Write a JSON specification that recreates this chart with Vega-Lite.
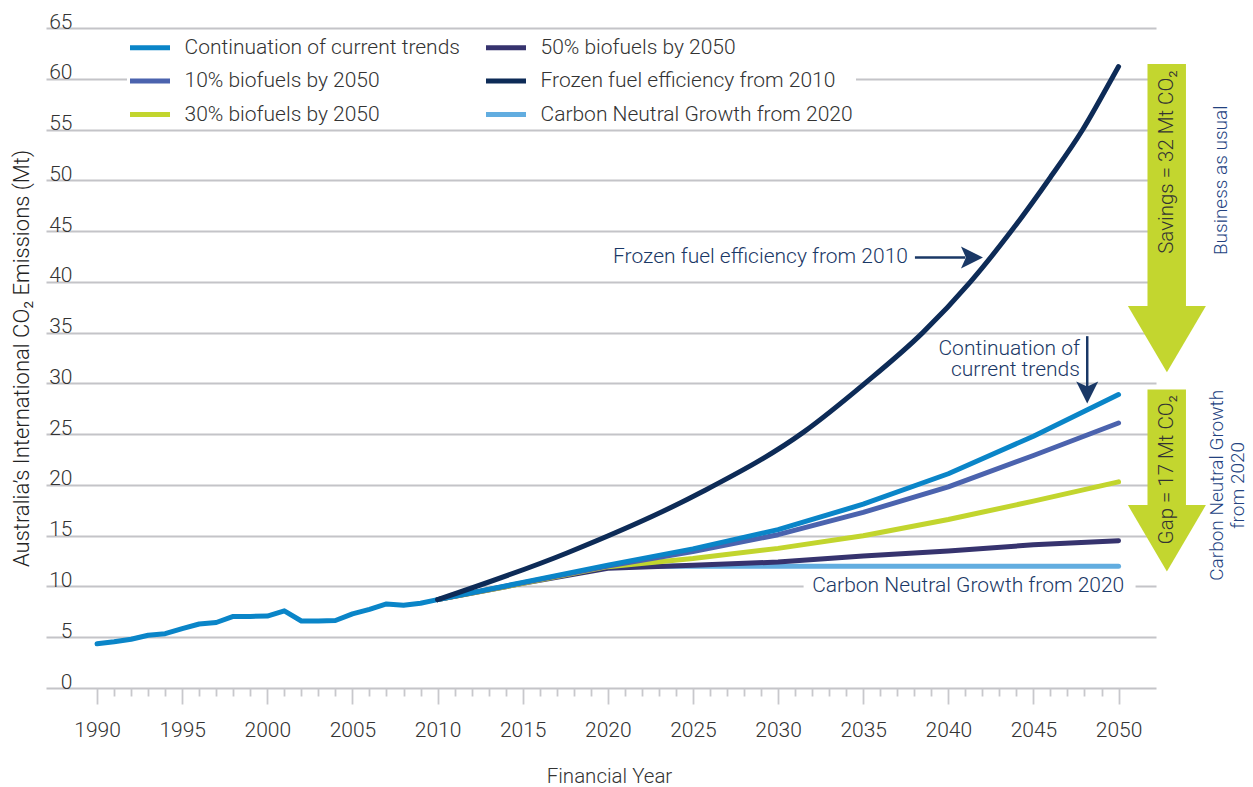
{
  "$schema": "https://vega.github.io/schema/vega-lite/v6.json",
  "width": 1110,
  "height": 660,
  "autosize": {"type": "none"},
  "padding": {"left": 46, "top": 28, "right": 97, "bottom": 99},
  "background": "white",
  "config": {"view": {"stroke": null}, "font": "Roboto", "text": {"font": "Roboto", "fontWeight": 300}},
  "encoding": {
    "x": {
      "field": "year", "type": "quantitative",
      "scale": {"domain": [1987, 2052.2], "nice": false, "zero": false},
      "axis": {
        "values": [1990,1991,1992,1993,1994,1995,1996,1997,1998,1999,2000,2001,2002,2003,2004,2005,2006,2007,2008,2009,2010,2011,2012,2013,2014,2015,2016,2017,2018,2019,2020,2021,2022,2023,2024,2025,2026,2027,2028,2029,2030,2031,2032,2033,2034,2035,2036,2037,2038,2039,2040,2041,2042,2043,2044,2045,2046,2047,2048,2049,2050],
        "format": "d",
        "labelExpr": "datum.value % 5 === 0 ? datum.label : ''",
        "labelFontSize": 21, "labelColor": "#333333", "labelFont": "Roboto", "labelFontWeight": 300,
        "labelBaseline": "alphabetic", "labelPadding": 32,
        "labelFlush": false, "labelOverlap": false,
        "domain": false, "grid": false,
        "tickColor": "#c8c8cc", "tickWidth": 1.8,
        "tickSize": {"condition": {"test": "datum.value % 5 === 0", "value": 16}, "value": 8},
        "title": "Financial Year", "titleFontSize": 20.5, "titleFontWeight": 300, "titleColor": "#333333",
        "titleFont": "Roboto",
        "titleX": 563, "titleY": 94, "titleBaseline": "alphabetic", "titleAlign": "center"
      }
    },
    "y": {
      "field": "value", "type": "quantitative",
      "scale": {"domain": [0, 65], "nice": false},
      "axis": {
        "values": [0,5,10,15,20,25,30,35,40,45,50,55,60,65],
        "grid": true, "gridColor": "#c4c4c8", "gridWidth": 2.2,
        "domain": false, "ticks": false, "tickSize": 0,
        "labelAlign": "right", "labelBaseline": "alphabetic", "labelPadding": -26,
        "labelDy": -4,
        "labelFontSize": 21, "labelColor": "#333333", "labelFont": "Roboto", "labelFontWeight": 300,
        "labelFlush": false, "labelOverlap": false,
        "title": "Australia’s International CO₂ Emissions (Mt)",
        "titleFontSize": 22, "titleFontWeight": 300, "titleColor": "#222222", "titleFont": "Roboto",
        "titleAngle": 270, "titleX": -18, "titleY": 330, "titleAlign": "center", "titleBaseline": "alphabetic"
      }
    }
  },
  "layer": [
    {
      "data": {"values": [{"year": 2031.5, "year2": 2051.0, "value": 9.4, "value2": 10.6}]},
      "mark": {"type": "rect", "fill": "white"},
      "encoding": {"x2": {"field": "year2"}, "y2": {"field": "value2"}}
    },
    {
      "data": {"values": [
        {"series": "Carbon Neutral Growth from 2020", "year": 2020, "value": 12.0},
        {"series": "Carbon Neutral Growth from 2020", "year": 2050, "value": 12.0},
        {"series": "50% biofuels by 2050", "year": 2010, "value": 8.7},
        {"series": "50% biofuels by 2050", "year": 2015, "value": 10.3},
        {"series": "50% biofuels by 2050", "year": 2020, "value": 11.8},
        {"series": "50% biofuels by 2050", "year": 2025, "value": 12.1},
        {"series": "50% biofuels by 2050", "year": 2030, "value": 12.4},
        {"series": "50% biofuels by 2050", "year": 2035, "value": 13.0},
        {"series": "50% biofuels by 2050", "year": 2040, "value": 13.5},
        {"series": "50% biofuels by 2050", "year": 2045, "value": 14.1},
        {"series": "50% biofuels by 2050", "year": 2050, "value": 14.5},
        {"series": "30% biofuels by 2050", "year": 2010, "value": 8.7},
        {"series": "30% biofuels by 2050", "year": 2015, "value": 10.3},
        {"series": "30% biofuels by 2050", "year": 2020, "value": 11.95},
        {"series": "30% biofuels by 2050", "year": 2025, "value": 12.75},
        {"series": "30% biofuels by 2050", "year": 2030, "value": 13.75},
        {"series": "30% biofuels by 2050", "year": 2035, "value": 15.0},
        {"series": "30% biofuels by 2050", "year": 2040, "value": 16.6},
        {"series": "30% biofuels by 2050", "year": 2045, "value": 18.4},
        {"series": "30% biofuels by 2050", "year": 2050, "value": 20.3},
        {"series": "10% biofuels by 2050", "year": 2010, "value": 8.7},
        {"series": "10% biofuels by 2050", "year": 2015, "value": 10.35},
        {"series": "10% biofuels by 2050", "year": 2020, "value": 12.0},
        {"series": "10% biofuels by 2050", "year": 2025, "value": 13.45},
        {"series": "10% biofuels by 2050", "year": 2030, "value": 15.1},
        {"series": "10% biofuels by 2050", "year": 2035, "value": 17.3},
        {"series": "10% biofuels by 2050", "year": 2040, "value": 19.8},
        {"series": "10% biofuels by 2050", "year": 2045, "value": 22.9},
        {"series": "10% biofuels by 2050", "year": 2050, "value": 26.1}
      ]},
      "mark": {"type": "line", "strokeWidth": 5, "strokeCap": "round", "strokeJoin": "round"},
      "encoding": {
        "color": {
          "field": "series", "type": "nominal",
          "scale": {
            "domain": ["Continuation of current trends", "10% biofuels by 2050", "30% biofuels by 2050", "50% biofuels by 2050", "Frozen fuel efficiency from 2010", "Carbon Neutral Growth from 2020"],
            "range": ["#0a85c8", "#4b63ae", "#c2d52e", "#36336e", "#0d2b57", "#62ade0"]
          },
          "legend": {
            "orient": "none", "legendX": 81, "legendY": 6, "columns": 2, "title": null,
            "symbolType": "M-4,0L4,0", "symbolSize": 100, "symbolStrokeWidth": 5,
            "symbolOffset": 9.5, "labelOffset": 24,
            "labelFontSize": 21, "labelFont": "Roboto", "labelFontWeight": 300, "labelColor": "#333333", "labelLimit": 500,
            "rowPadding": 11.5, "columnPadding": 16, "padding": 3, "fillColor": "white"
          }
        }
      }
    },
    {
      "data": {"values": [
        {"series": "Continuation of current trends", "year": 1990, "value": 4.35},
        {"series": "Continuation of current trends", "year": 1991, "value": 4.55},
        {"series": "Continuation of current trends", "year": 1992, "value": 4.8},
        {"series": "Continuation of current trends", "year": 1993, "value": 5.2},
        {"series": "Continuation of current trends", "year": 1994, "value": 5.35},
        {"series": "Continuation of current trends", "year": 1995, "value": 5.85},
        {"series": "Continuation of current trends", "year": 1996, "value": 6.3},
        {"series": "Continuation of current trends", "year": 1997, "value": 6.45},
        {"series": "Continuation of current trends", "year": 1998, "value": 7.05},
        {"series": "Continuation of current trends", "year": 1999, "value": 7.05},
        {"series": "Continuation of current trends", "year": 2000, "value": 7.08},
        {"series": "Continuation of current trends", "year": 2001, "value": 7.6},
        {"series": "Continuation of current trends", "year": 2002, "value": 6.6},
        {"series": "Continuation of current trends", "year": 2003, "value": 6.6},
        {"series": "Continuation of current trends", "year": 2004, "value": 6.65},
        {"series": "Continuation of current trends", "year": 2005, "value": 7.3},
        {"series": "Continuation of current trends", "year": 2006, "value": 7.75},
        {"series": "Continuation of current trends", "year": 2007, "value": 8.28},
        {"series": "Continuation of current trends", "year": 2008, "value": 8.15},
        {"series": "Continuation of current trends", "year": 2009, "value": 8.35},
        {"series": "Continuation of current trends", "year": 2010, "value": 8.7},
        {"series": "Continuation of current trends", "year": 2015, "value": 10.4},
        {"series": "Continuation of current trends", "year": 2020, "value": 12.1},
        {"series": "Continuation of current trends", "year": 2025, "value": 13.7},
        {"series": "Continuation of current trends", "year": 2030, "value": 15.6},
        {"series": "Continuation of current trends", "year": 2035, "value": 18.1},
        {"series": "Continuation of current trends", "year": 2040, "value": 21.1},
        {"series": "Continuation of current trends", "year": 2045, "value": 24.8},
        {"series": "Continuation of current trends", "year": 2050, "value": 28.9}
      ]},
      "mark": {"type": "line", "strokeWidth": 5, "strokeCap": "round", "strokeJoin": "round"},
      "encoding": {
        "color": {
          "field": "series", "type": "nominal",
          "scale": {
            "domain": ["Continuation of current trends", "10% biofuels by 2050", "30% biofuels by 2050", "50% biofuels by 2050", "Frozen fuel efficiency from 2010", "Carbon Neutral Growth from 2020"],
            "range": ["#0a85c8", "#4b63ae", "#c2d52e", "#36336e", "#0d2b57", "#62ade0"]
          }
        }
      }
    },
    {
      "data": {"values": [
        {"series": "Frozen fuel efficiency from 2010", "year": 2010, "value": 8.7},
        {"series": "Frozen fuel efficiency from 2010", "year": 2017.6, "value": 13.3},
        {"series": "Frozen fuel efficiency from 2010", "year": 2025.4, "value": 19.2},
        {"series": "Frozen fuel efficiency from 2010", "year": 2031.5, "value": 25.2},
        {"series": "Frozen fuel efficiency from 2010", "year": 2035.1, "value": 30.0},
        {"series": "Frozen fuel efficiency from 2010", "year": 2038.5, "value": 35.0},
        {"series": "Frozen fuel efficiency from 2010", "year": 2041.3, "value": 40.0},
        {"series": "Frozen fuel efficiency from 2010", "year": 2043.7, "value": 45.0},
        {"series": "Frozen fuel efficiency from 2010", "year": 2046.0, "value": 50.3},
        {"series": "Frozen fuel efficiency from 2010", "year": 2047.9, "value": 55.0},
        {"series": "Frozen fuel efficiency from 2010", "year": 2049.6, "value": 60.0},
        {"series": "Frozen fuel efficiency from 2010", "year": 2050, "value": 61.2}
      ]},
      "mark": {"type": "line", "strokeWidth": 5, "strokeCap": "round", "strokeJoin": "round", "interpolate": "monotone"},
      "encoding": {
        "color": {
          "field": "series", "type": "nominal",
          "scale": {
            "domain": ["Continuation of current trends", "10% biofuels by 2050", "30% biofuels by 2050", "50% biofuels by 2050", "Frozen fuel efficiency from 2010", "Carbon Neutral Growth from 2020"],
            "range": ["#0a85c8", "#4b63ae", "#c2d52e", "#36336e", "#0d2b57", "#62ade0"]
          }
        }
      }
    },
    {
      "data": {"values": [
        {"year": 2038.04, "year2": 2041.0, "value": 42.4, "value2": 42.4},
        {"year": 2048.16, "year2": 2048.16, "value": 34.65, "value2": 29.4}
      ]},
      "mark": {"type": "rule", "color": "#1a3866", "strokeWidth": 2.5},
      "encoding": {"x2": {"field": "year2"}, "y2": {"field": "value2"}}
    },
    {
      "data": {"values": [{"year": 2041.39, "value": 42.4}]},
      "mark": {"type": "point", "shape": "M-1,-1L1,0L-1,1L-0.55,0Z", "size": 484, "filled": true, "color": "#1a3866", "opacity": 1},
      "encoding": {}
    },
    {
      "data": {"values": [{"year": 2048.16, "value": 29.09}]},
      "mark": {"type": "point", "shape": "M-1,-1L0,1L1,-1L0,-0.55Z", "size": 484, "filled": true, "color": "#1a3866", "opacity": 1},
      "encoding": {}
    },
    {
      "data": {"values": [
        {"year": 2037.63, "value": 42.4, "label": "Frozen fuel efficiency from 2010"},
        {"year": 2047.73, "value": 33.43, "label": "Continuation of"},
        {"year": 2047.73, "value": 31.29, "label": "current trends"}
      ]},
      "mark": {"type": "text", "align": "right", "baseline": "middle", "fontSize": 21, "fontWeight": 300, "color": "#1a3866"},
      "encoding": {"text": {"field": "label"}}
    },
    {
      "data": {"values": [{"year": 2041.17, "value": 10.0, "label": "Carbon Neutral Growth from 2020"}]},
      "mark": {"type": "text", "align": "center", "baseline": "middle", "fontSize": 21, "fontWeight": 300, "color": "#1a3866"},
      "encoding": {"text": {"field": "label"}}
    },
    {
      "data": {"values": [
        {"year": 2051.70, "year2": 2053.96, "value": 61.45, "value2": 37.0},
        {"year": 2051.70, "year2": 2053.96, "value": 29.4, "value2": 17.5}
      ]},
      "mark": {"type": "rect", "color": "#c3d62f"},
      "encoding": {"x2": {"field": "year2"}, "y2": {"field": "value2"}}
    },
    {
      "data": {"values": [
        {"year": 2052.84, "value": 34.35},
        {"year": 2052.84, "value": 14.75}
      ]},
      "mark": {"type": "point", "shape": "M-1,-0.85L1,-0.85L0,0.85Z", "size": 6084, "filled": true, "color": "#c3d62f", "opacity": 1},
      "encoding": {}
    },
    {
      "data": {"values": [
        {"year": 2052.84, "value": 51.8, "label": "Savings = 32 Mt CO₂"},
        {"year": 2052.84, "value": 21.5, "label": "Gap = 17 Mt CO₂"}
      ]},
      "mark": {"type": "text", "angle": 270, "align": "center", "baseline": "middle", "fontSize": 20.5, "fontWeight": 300, "color": "#333333"},
      "encoding": {"text": {"field": "label"}}
    },
    {
      "data": {"values": [
        {"year": 2056.04, "value": 50.0, "label": "Business as usual"},
        {"year": 2055.78, "value": 19.96, "label": "Carbon Neutral Growth"},
        {"year": 2057.02, "value": 19.96, "label": "from 2020"}
      ]},
      "mark": {"type": "text", "angle": 270, "align": "center", "baseline": "middle", "fontSize": 19, "fontWeight": 300, "color": "#23427f"},
      "encoding": {"text": {"field": "label"}}
    }
  ]
}
